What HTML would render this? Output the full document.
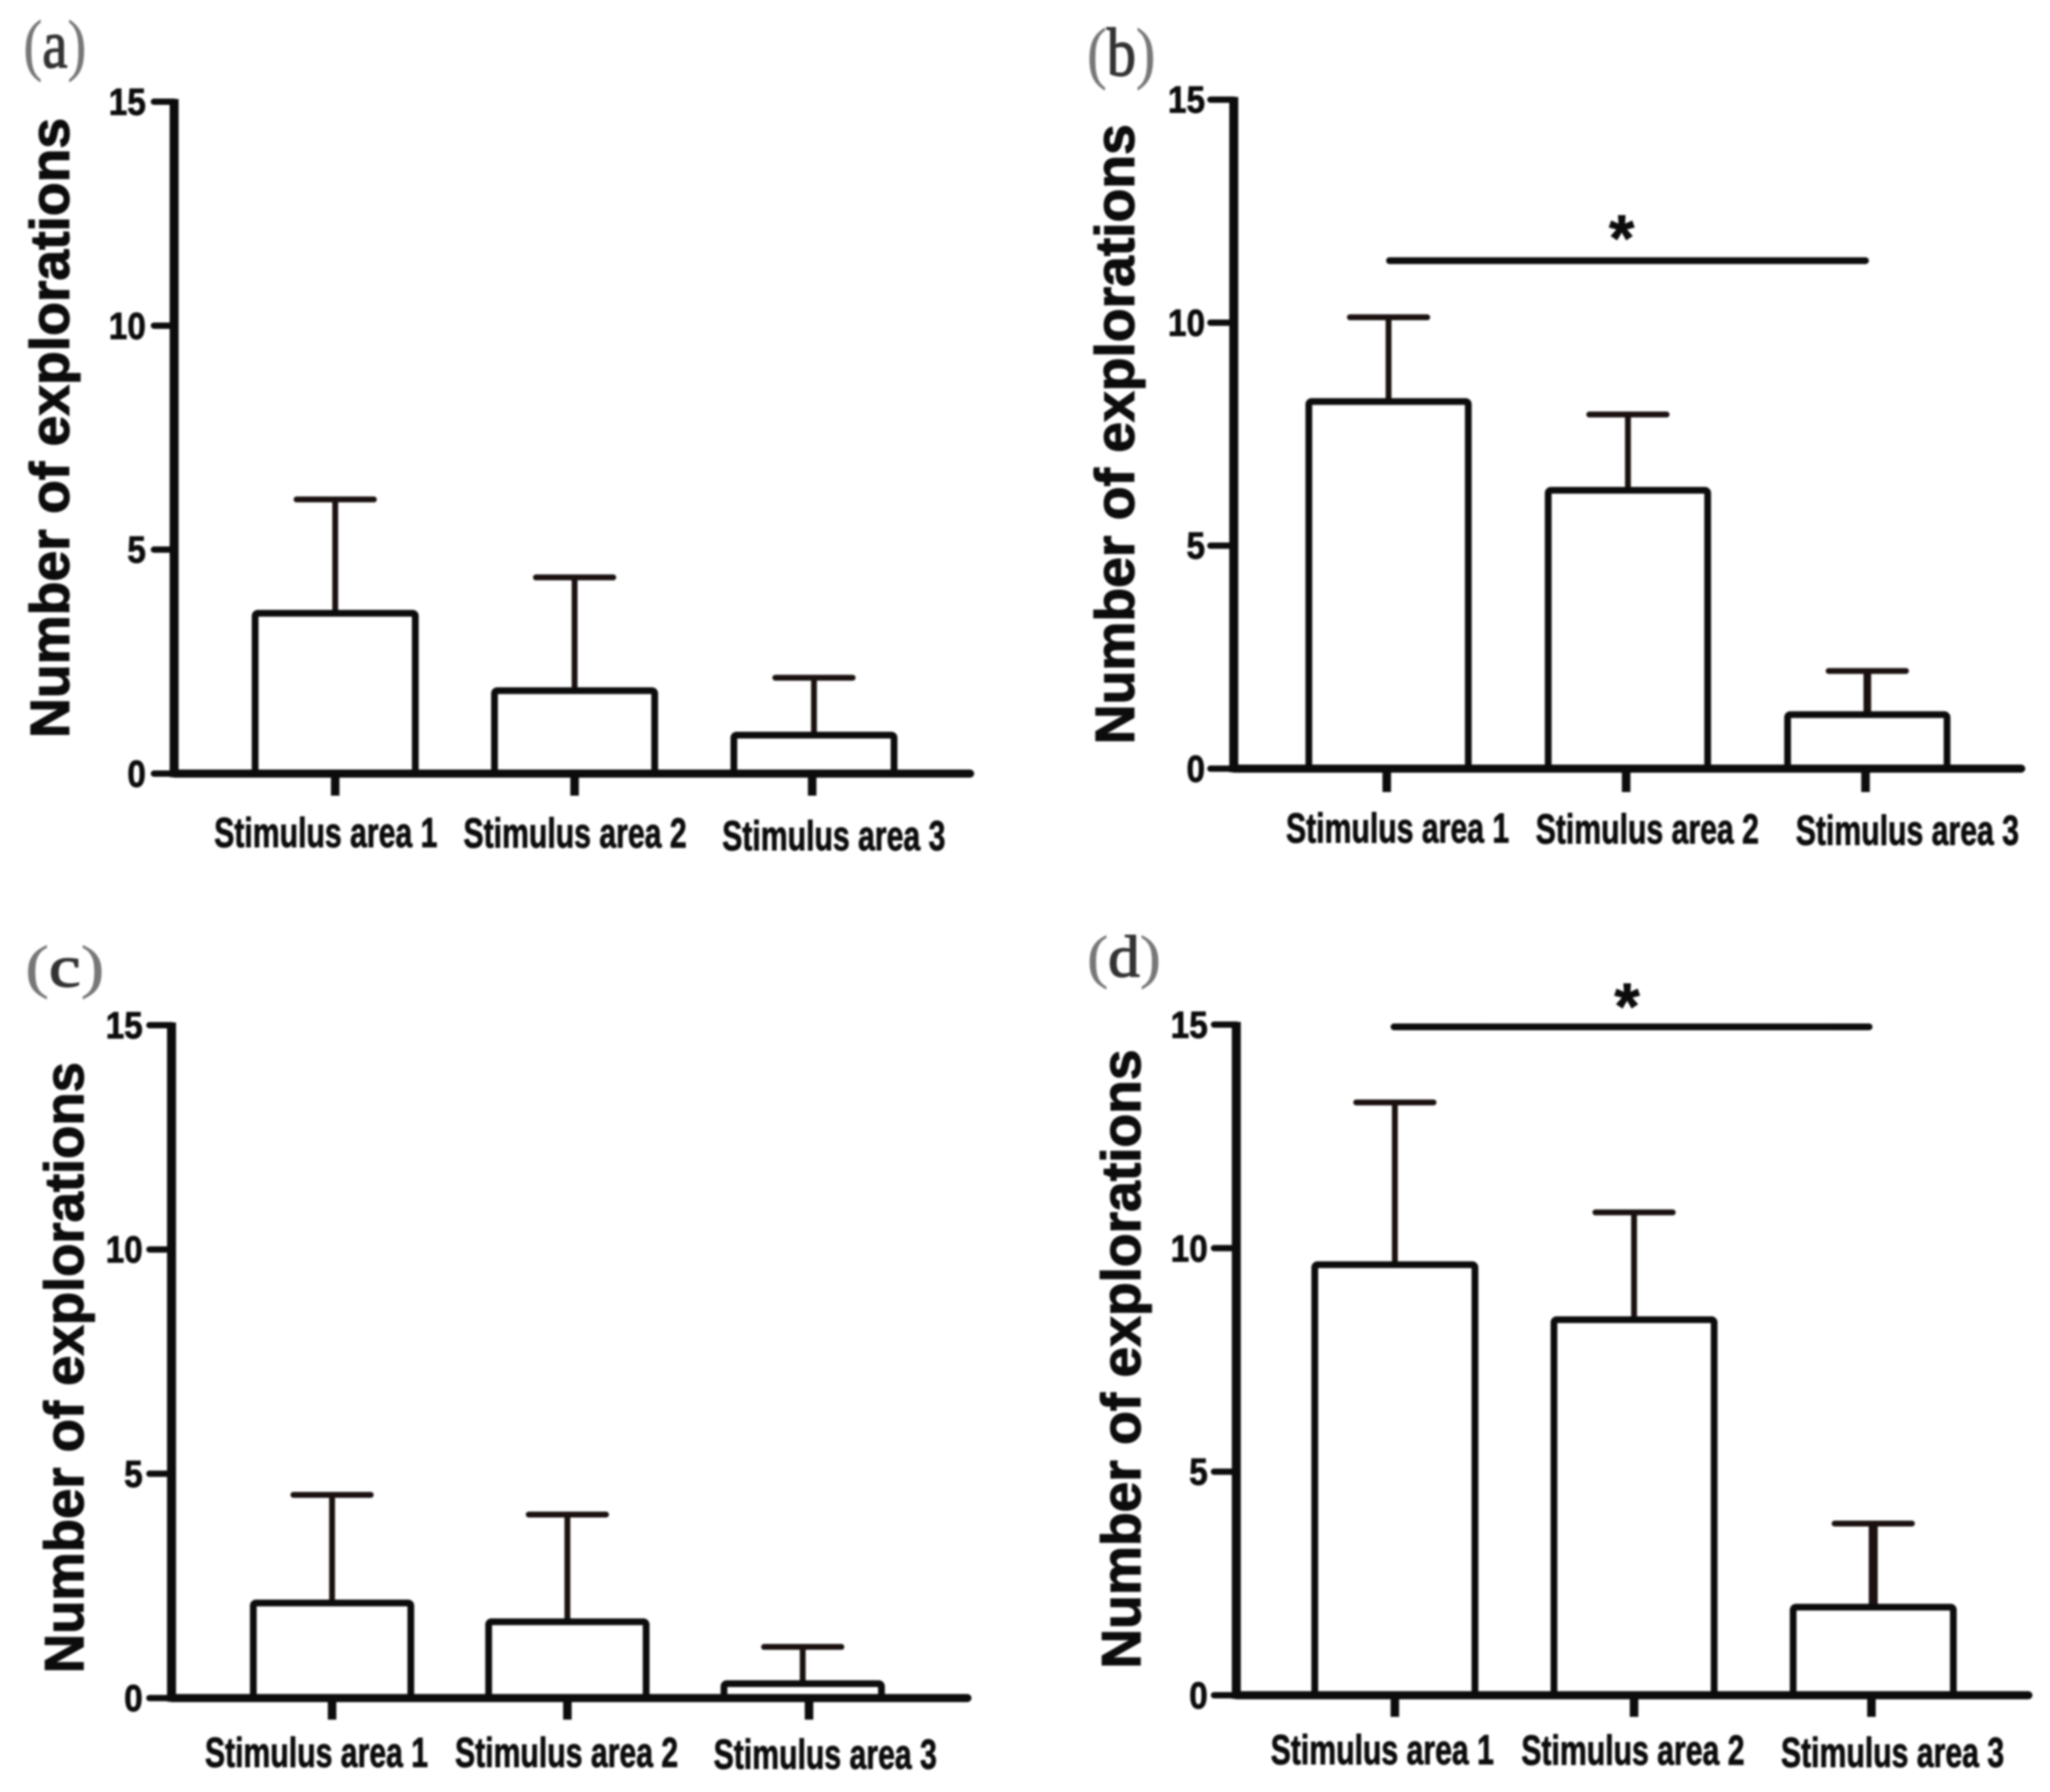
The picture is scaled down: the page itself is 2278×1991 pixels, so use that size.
<!DOCTYPE html>
<html>
<head>
<meta charset="utf-8">
<title>Number of explorations by stimulus area</title>
<style>
html,body{margin:0;padding:0;background:#fff;}
#figure{display:block;width:2278px;height:1991px;filter:blur(1.1px);}
text{font-family:"Liberation Sans",sans-serif;font-weight:bold;fill:#0c0c0c;stroke:#0c0c0c;stroke-width:.9px;}
.y-title{font-size:61px;stroke-width:1.3px;}
.panel-tag{font-family:"Liberation Serif",serif;font-weight:normal;fill:#777;stroke:#777;stroke-width:.5px;}
.panel-tag tspan{fill:#333;stroke:#333;stroke-width:1.4px;}
</style>
</head>
<body>
<svg id="figure" xmlns="http://www.w3.org/2000/svg" width="2278" height="1991" viewBox="0 0 2278 1991">
  <rect width="2278" height="1991" fill="#fff"/>
  <text class="panel-tag" x="26" y="75" font-size="76" textLength="70" lengthAdjust="spacingAndGlyphs">(<tspan>a</tspan>)</text>
  <text class="panel-tag" x="1208" y="84" font-size="76" textLength="76" lengthAdjust="spacingAndGlyphs">(<tspan>b</tspan>)</text>
  <text class="panel-tag" x="28" y="1096" font-size="66" textLength="88" lengthAdjust="spacingAndGlyphs">(<tspan>c</tspan>)</text>
  <text class="panel-tag" x="1208" y="1085" font-size="66" textLength="82" lengthAdjust="spacingAndGlyphs">(<tspan>d</tspan>)</text>
  <text class="y-title" transform="translate(76.5,820) rotate(-90)" textLength="689" lengthAdjust="spacingAndGlyphs">Number of explorations</text>
  <text class="y-title" transform="translate(1260,827) rotate(-90)" textLength="689" lengthAdjust="spacingAndGlyphs">Number of explorations</text>
  <text class="y-title" transform="translate(92.5,1859) rotate(-90)" textLength="679" lengthAdjust="spacingAndGlyphs">Number of explorations</text>
  <text class="y-title" transform="translate(1267,1854) rotate(-90)" textLength="688" lengthAdjust="spacingAndGlyphs">Number of explorations</text>
  <g id="charts"></g>
</svg>
<script>
// ---- chart data ----
const categories = ["Stimulus area 1", "Stimulus area 2", "Stimulus area 3"];
const yTickValues = [0, 5, 10, 15];
const yTickLabels = ["0", "5", "10", "15"];

const meansA = [3.58, 1.85, 0.86];
const upperA = [6.12, 4.38, 2.14];
const meansB = [8.23, 6.24, 1.21];
const upperB = [10.12, 7.94, 2.19];
const meansC = [2.12, 1.70, 0.32];
const upperC = [4.53, 4.09, 1.14];
const meansD = [9.63, 8.40, 1.97];
const upperD = [13.26, 10.80, 3.84];

const sigLevelB = 11.39;
const sigLevelD = 14.95;

// ---- panel layout ----
const NS = "http://www.w3.org/2000/svg";
const root = document.getElementById("charts");
const panels = [
  {id:"a", means:meansA, upper:upperA, sig:null, axisX:193.5, yTop:113, yZero:859.5, xEnd:1078, tickLeft:171, tickLabelRight:162,
   c0:372.5, step:266, halfBar:89, tickNudge:[0,0,-2], tickEnd:884, labelX:[238,515,802.5], labelY:[924.5,925,928], errW:[6.5,6.5,6.5]},
  {id:"b", means:meansB, upper:upperB, sig:sigLevelB, axisX:1371, yTop:110.7, yZero:854, xEnd:2246, tickLeft:1345, tickLabelRight:1339,
   c0:1543, step:266, halfBar:88.6, tickNudge:[-2,-2,-2], tickEnd:880, labelX:[1429,1706.5,1995.5], labelY:[919.5,920.5,922], errW:[6.5,6.5,8.5],
   sigX:[1544,2073], starX:1802, starY:256.5},
  {id:"c", means:meansC, upper:upperC, sig:null, axisX:190.6, yTop:1139, yZero:1886.6, xEnd:1075, tickLeft:166, tickLabelRight:158.6,
   c0:369, step:261.5, halfBar:87.5, tickNudge:[0,0,7], tickEnd:1910.6, labelX:[227.7,505.6,793], labelY:[1946.7,1946.7,1948.6], errW:[6.5,6.5,6.5]},
  {id:"d", means:meansD, upper:upperD, sig:sigLevelD, axisX:1373.8, yTop:1138.4, yZero:1883.5, xEnd:2254, tickLeft:1349, tickLabelRight:1342,
   c0:1550, step:265.8, halfBar:89, tickNudge:[0,0,-2], tickEnd:1907.5, labelX:[1412,1690.5,1979], labelY:[1943.5,1944,1946.7], errW:[6.5,6.5,10],
   sigX:[1549,2077], starX:1808, starY:1110}
];

function mk(tag, attrs, parent, txt) {
  const n = document.createElementNS(NS, tag);
  for (const k in attrs) n.setAttribute(k, attrs[k]);
  if (txt !== undefined) n.textContent = txt;
  parent.appendChild(n);
  return n;
}

panels.forEach(function (p) {
  // axis functions
  const yScale = function (v) { return p.yZero + (p.yTop - p.yZero) * v / 15; };
  const xCenter = function (i) { return p.c0 + i * p.step; };

  const g = mk("g", {}, root);
  
  

  // bars and error bars
  categories.forEach(function (cat, i) {
    const cx = xCenter(i);
    const top = yScale(p.means[i]);
    const up = yScale(p.upper[i]);

    const err = mk("line", {x1:cx, x2:cx, y1:top, y2:up, stroke:"#1a1110", "stroke-width":p.errW[i]}, g);
    
    

    const cap = mk("line", {x1:cx - 43, x2:cx + 43, y1:up, y2:up, stroke:"#1a1110", "stroke-width":6.5, "stroke-linecap":"round"}, g);
    
    

    const bar = mk("rect", {x:cx - p.halfBar, y:top, width:p.halfBar * 2, height:yScale(0) - top, fill:"#fff", stroke:"#0c0c0c", "stroke-width":7.5, rx:3}, g);
    
    

    const tick = mk("line", {x1:cx + p.tickNudge[i], x2:cx + p.tickNudge[i], y1:p.yZero, y2:p.tickEnd, stroke:"#0c0c0c", "stroke-width":9.5}, g);
    
    

    const lab = mk("text", {x:p.labelX[i], y:p.labelY[i] + 16.5, "font-size":46, textLength:248, lengthAdjust:"spacingAndGlyphs"}, g, cat);
    
    
  });

  // y axis
  const yAxis = mk("line", {x1:p.axisX, x2:p.axisX, y1:p.yTop - 3, y2:p.yZero + 4, stroke:"#0c0c0c", "stroke-width":10}, g);
  
  

  // x axis
  const xAxis = mk("line", {x1:p.axisX, x2:p.xEnd, y1:p.yZero, y2:p.yZero, stroke:"#0c0c0c", "stroke-width":9, "stroke-linecap":"round"}, g);
  
  

  // y ticks
  yTickValues.forEach(function (v, i) {
    const y = yScale(v);
    const t = mk("line", {x1:p.tickLeft, x2:p.axisX, y1:y, y2:y, stroke:"#0c0c0c", "stroke-width":7, "stroke-linecap":"round"}, g);
    
    

    const l = mk("text", {transform:"translate(" + p.tickLabelRight + "," + (y + 14.5) + ") scale(.88,1)", "text-anchor":"end", "font-size":42}, g, yTickLabels[i]);
    
    
  });

  // significance bracket
  if (p.sig !== null) {
    const sy = yScale(p.sig);
    const s = mk("line", {x1:p.sigX[0], x2:p.sigX[1], y1:sy, y2:sy, stroke:"#0c0c0c", "stroke-width":7.5, "stroke-linecap":"round"}, g);
    
    

    const star = mk("text", {x:p.starX, y:p.starY + 33, "font-size":72, "text-anchor":"middle"}, g, "*");
    
    
  }
});
</script>
</body>
</html>
